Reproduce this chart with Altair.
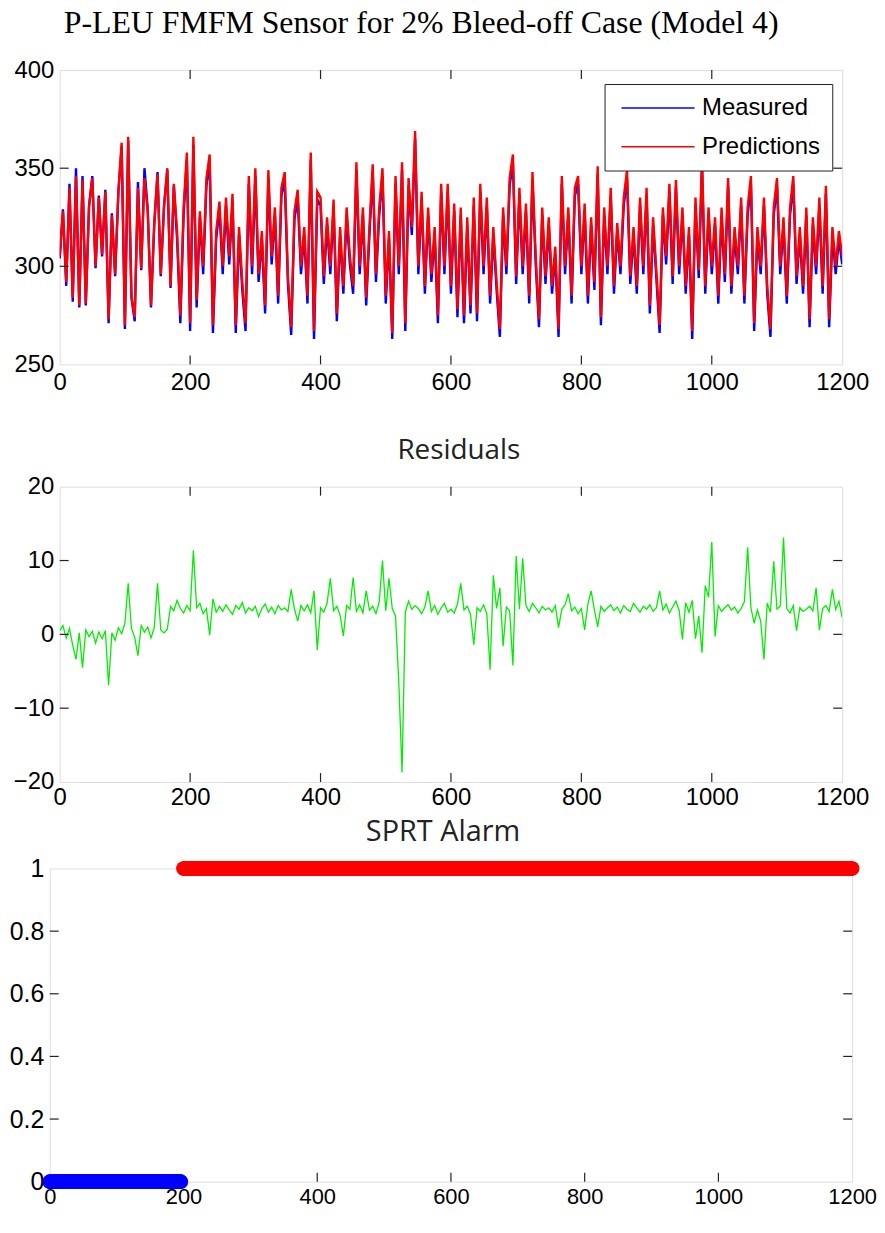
import altair as alt
import pandas as pd

# ---------------- data ----------------
sample_x = list(range(0, 1201, 5))

predictions = [
    305, 328, 292, 340, 284, 346, 280, 344, 281, 330,
    345, 300, 335, 306, 338, 273, 326, 296, 338, 363,
    270, 366, 285, 274, 340, 299, 345, 328, 280, 322,
    347, 296, 330, 350, 290, 342, 318, 275, 330, 358,
    271, 366, 283, 328, 300, 345, 357, 270, 318, 333,
    300, 335, 305, 337, 270, 320, 292, 271, 346, 300,
    350, 296, 318, 280, 349, 305, 330, 285, 340, 348,
    295, 269, 328, 339, 300, 320, 285, 358, 267, 338,
    335, 295, 325, 300, 334, 276, 320, 290, 330, 305,
    290, 353, 300, 330, 284, 320, 352, 296, 330, 350,
    285, 318, 266, 346, 300, 353, 271, 345, 320, 369,
    300, 338, 290, 330, 296, 320, 275, 342, 300, 342,
    290, 332, 278, 330, 275, 325, 280, 335, 276, 342,
    300, 335, 285, 320, 292, 268, 330, 300, 345, 357,
    295, 340, 300, 332, 285, 348, 305, 273, 330, 295,
    325, 290, 310, 268, 346, 300, 330, 285, 340, 346,
    300, 332, 285, 325, 292, 351, 274, 330, 300, 340,
    290, 322, 300, 335, 349, 295, 320, 290, 335, 300,
    340, 280, 325, 298, 270, 330, 305, 342, 295, 344,
    300, 330, 290, 320, 267, 335, 298, 355, 290, 330,
    300, 325, 285, 330, 296, 345, 290, 320, 300, 335,
    285, 330, 346, 271, 320, 300, 335, 290, 268, 330,
    345, 300, 325, 285, 330, 346, 295, 320, 290, 330,
    273, 325, 300, 335, 290, 341, 273, 320, 300, 318,
    305,
]

measured = [
    304, 329, 290, 342, 282, 350, 279, 346, 280, 331,
    346, 299, 336, 305, 339, 271, 327, 295, 338, 361,
    268, 364, 284, 272, 343, 298, 350, 329, 279, 321,
    348, 295, 331, 349, 289, 341, 314, 271, 326, 354,
    267, 362, 279, 325, 296, 341, 353, 266, 314, 329,
    296, 331, 301, 333, 266, 316, 288, 267, 342, 296,
    346, 292, 314, 276, 345, 301, 326, 281, 336, 344,
    291, 265, 324, 335, 296, 316, 281, 354, 263, 334,
    331, 291, 321, 296, 330, 272, 316, 286, 326, 301,
    286, 349, 296, 326, 280, 316, 348, 292, 326, 346,
    281, 314, 263, 342, 296, 349, 267, 341, 316, 365,
    296, 334, 286, 326, 292, 316, 271, 338, 296, 338,
    286, 328, 274, 326, 271, 321, 276, 331, 272, 338,
    296, 331, 281, 316, 288, 264, 326, 296, 341, 353,
    291, 336, 296, 328, 281, 344, 301, 269, 326, 291,
    321, 286, 306, 264, 342, 296, 326, 281, 336, 342,
    296, 328, 281, 321, 288, 347, 270, 326, 296, 336,
    286, 318, 296, 331, 345, 291, 316, 286, 331, 296,
    336, 276, 321, 294, 266, 326, 301, 338, 291, 340,
    296, 326, 286, 316, 263, 331, 294, 351, 286, 326,
    296, 321, 281, 326, 292, 341, 286, 316, 296, 331,
    281, 326, 342, 267, 316, 296, 331, 286, 264, 326,
    341, 296, 321, 281, 326, 342, 291, 316, 286, 326,
    269, 321, 296, 331, 286, 337, 269, 316, 296, 314,
    301,
]

residuals = [
    0.5, 1.2, -0.5, 0.8, -1.5, -3.4, 0.2, -4.5, 0.6, -0.3,
    0.4, -1.2, 0.3, -0.6, 0.5, -6.9, 0.2, -0.8, 0.9, 0.1,
    1.5, 6.9, 0.8, -0.4, -2.9, 1.2, 0.3, 1.0, -0.5, 0.9,
    6.9, 0.6, 0.2, 0.7, 3.8, 3.2, 4.6, 3.5, 2.9, 3.9,
    3.2, 11.4, 3.6, 4.2, 2.8, 3.5, -0.1, 4.8, 3.0, 3.8,
    3.1, 4.0, 3.3, 2.7, 3.9, 3.4, 4.3, 2.9, 3.6, 3.2,
    3.8, 2.4, 3.5, 4.1, 3.0, 3.7, 2.8, 3.9, 3.3, 3.6,
    3.1, 6.1, 3.4, 1.8, 3.9, 3.2, 4.0, 2.9, 5.9, -2.1,
    3.6, 3.0, 4.2, 7.6, 3.2, 3.8, 2.6, -0.2, 3.9, 3.4,
    7.7, 3.1, 4.0, 2.9, 5.9, 3.3, 3.8, 2.8, 4.4, 10.0,
    3.2, 7.6, 3.5, 2.5, -6.5, -18.7, 3.0, 4.5, 3.4, 3.9,
    3.5, 2.8, 3.7, 5.9, 3.1, 3.9, 2.7, 3.6, 4.2, 3.0,
    3.4, 2.9, 4.1, 6.9, 3.3, 3.8, 2.7, -1.4, 3.6, 3.1,
    4.0, 2.8, -4.8, 8.0, 3.5, 6.3, -1.6, 3.7, 3.2, -4.2,
    10.6, 3.4, 10.3, 3.9, 3.1, 4.2, 3.6, 2.9, 3.8, 3.3,
    3.6, 3.0, 3.9, 0.9, 3.4, 4.0, 5.5, 3.2, 3.7, 2.8,
    3.5, 0.6, 4.1, 5.9, 3.3, 1.0, 3.8, 3.1, 3.6, 4.0,
    3.2, 3.7, 2.9, 3.9, 3.4, 3.1, 4.2, 3.6, 3.0, 3.8,
    3.4, 4.0, 3.1, 3.6, 5.9, 3.3, 4.1, 2.9, 3.7, 4.5,
    3.2, -0.7, 4.3, 3.0, 4.6, -0.6, 2.5, -2.5, 6.6, 5.0,
    12.5, -0.3, 3.9, 3.1, 3.6, 4.0, 3.3, 3.7, 2.9, 3.5,
    4.4, 11.8, 3.6, 1.5, 3.3, 1.8, -3.4, 4.2, 3.0, 9.9,
    3.4, 3.8, 13.1, 3.5, 2.9, 3.9, 0.5, 3.6, 3.1, 3.4,
    3.8, 3.2, 6.3, 0.6, 3.5, 3.9, 3.1, 6.1, 3.4, 4.5,
    2.3,
]

# SPRT alarm: runs of constant alarm state (first sample, last sample, state)
alarm_run_start = [0, 200]
alarm_run_end = [196, 1200]
alarm_run_state = [0, 1]

series_names = ["Measured", "Predictions"]
series_colors = ["#0000ff", "#ff0000"]

x_ticks = [0, 200, 400, 600, 800, 1000, 1200]
x_inner_ticks = [200, 400, 600, 800, 1000]
top_y_ticks = [250, 300, 350, 400]
top_y_inner = [300, 350]
mid_y_ticks = [-20, -10, 0, 10, 20]
mid_y_inner = [-10, 0, 10]
bot_y_ticks = [0, 0.2, 0.4, 0.6, 0.8, 1]
bot_y_inner = [0.2, 0.4, 0.6, 0.8]

# ---------------- styling helpers ----------------
LABEL_FONT = "Liberation Sans"
TICK_LEN = 9
FRAME = "#222222"


def x_axis(pad=6, size=24):
    return alt.Axis(values=x_ticks, title=None, ticks=False, domain=False, grid=False,
                    format="d", labelFont=LABEL_FONT, labelFontSize=size, labelColor="black",
                    labelPadding=pad, labelFlush=False, labelOverlap=False)


def y_axis(vals, pad=6, size=24, fmt="d"):
    return alt.Axis(values=vals, title=None, ticks=False, domain=False, grid=False,
                    labelFont=LABEL_FONT, labelFontSize=size, labelColor="black",
                    labelPadding=pad, labelFlush=False, labelOverlap=False, format=fmt)


def panel(main_layers, xvals, yvals, ydom, W, H, xax, yax, top=True):
    xsc = alt.Scale(domain=[0, 1200], nice=False, zero=False)
    ysc = alt.Scale(domain=ydom, nice=False, zero=False)
    dx = pd.DataFrame({"sample": xvals})
    dy = pd.DataFrame({"level": yvals})
    xe = alt.X("sample:Q", scale=xsc, axis=xax)
    ye = alt.Y("level:Q", scale=ysc, axis=yax)
    rule = dict(color=FRAME, strokeWidth=1.2)
    layers = list(main_layers)
    layers.append(alt.Chart(dx).mark_rule(**rule).encode(x=xe, y=alt.value(H), y2=alt.value(H - TICK_LEN)))
    if top:
        layers.append(alt.Chart(dx).mark_rule(**rule).encode(x=xe, y=alt.value(0), y2=alt.value(TICK_LEN)))
    layers.append(alt.Chart(dy).mark_rule(**rule).encode(y=ye, x=alt.value(0), x2=alt.value(TICK_LEN)))
    layers.append(alt.Chart(dy).mark_rule(**rule).encode(y=ye, x=alt.value(W), x2=alt.value(W - TICK_LEN)))
    return layers


def spacer(w, h):
    return alt.Chart(pd.DataFrame({"s": [0]})).mark_rule(opacity=0).encode(
        y=alt.value(0)
    ).properties(width=w, height=h, view=alt.ViewBackground(stroke="transparent"))


# ---------------- top panel ----------------
W1, H1 = 787, 296
n = len(sample_x)
top_df = pd.DataFrame({
    "sample": sample_x + sample_x,
    "level": measured + predictions,
    "series": [series_names[0]] * n + [series_names[1]] * n,
})
xa1, ya1 = x_axis(), y_axis(top_y_ticks)
top_lines = alt.Chart(top_df).mark_line(strokeWidth=2.4, clip=True).encode(
    x=alt.X("sample:Q", scale=alt.Scale(domain=[0, 1200], nice=False, zero=False), axis=xa1),
    y=alt.Y("level:Q", scale=alt.Scale(domain=[250, 400], nice=False, zero=False), axis=ya1),
    color=alt.Color("series:N",
                    scale=alt.Scale(domain=series_names, range=series_colors),
                    legend=alt.Legend(orient="none", legendX=548, legendY=14, title=None,
                                      fillColor="white", strokeColor=FRAME, padding=12,
                                      symbolType="M-1,0H9.5", symbolSize=196,
                                      symbolStrokeWidth=1.5, labelOffset=62,
                                      labelFont=LABEL_FONT, labelFontSize=24,
                                      labelColor="black", rowPadding=15)),
    detail="series:N",
)
# invisible helper that widens the panel's bounds so the centred stack lines up
top_pad = alt.Chart(pd.DataFrame({"s": [0]})).mark_rule(opacity=0).encode(
    x=alt.value(W1), x2=alt.value(W1 + 34), y=alt.value(H1))
top = alt.layer(*panel([top_lines], x_inner_ticks, top_y_inner, [250, 400], W1, H1, xa1, ya1),
                top_pad).properties(
    width=W1, height=H1,
    title=alt.TitleParams("P-LEU FMFM Sensor for 2% Bleed-off Case (Model 4)",
                          font="Liberation Serif", fontSize=32, fontWeight="normal",
                          color="black", anchor="middle", dx=-30, offset=18),
)

# ---------------- middle panel ----------------
W2, H2 = 787, 297
mid_df = pd.DataFrame({"sample": sample_x, "level": residuals})
xa2, ya2 = x_axis(pad=4), y_axis(mid_y_ticks)
mid_line = alt.Chart(mid_df).mark_line(strokeWidth=1.3, color="#00ee00", clip=True).encode(
    x=alt.X("sample:Q", scale=alt.Scale(domain=[0, 1200], nice=False, zero=False), axis=xa2),
    y=alt.Y("level:Q", scale=alt.Scale(domain=[-20, 20], nice=False, zero=False), axis=ya2),
)
mid = alt.layer(*panel([mid_line], x_inner_ticks, mid_y_inner, [-20, 20], W2, H2, xa2, ya2)).properties(
    width=W2, height=H2,
    title=alt.TitleParams("Residuals", font="Open Sans", fontSize=28, fontWeight="normal",
                          color="#222222", anchor="middle", dx=8, offset=10),
)

# ---------------- bottom panel ----------------
W3, H3 = 807, 315
a_x, a_state = [], []
for s, e, st in zip(alarm_run_start, alarm_run_end, alarm_run_state):
    for i in range(s, e + 1):
        a_x.append(i)
        a_state.append(st)
alarm_df = pd.DataFrame({"sample": a_x, "level": a_state})
xa3, ya3 = x_axis(pad=5, size=22), y_axis(bot_y_ticks, pad=6, size=25, fmt=".1~f")
bot_pts = alt.Chart(alarm_df).mark_point(filled=True, size=220, opacity=1).encode(
    x=alt.X("sample:Q", scale=alt.Scale(domain=[0, 1200], nice=False, zero=False), axis=xa3),
    y=alt.Y("level:Q", scale=alt.Scale(domain=[0, 1], nice=False, zero=False), axis=ya3),
    color=alt.Color("level:N", scale=alt.Scale(domain=[0, 1], range=["#0000ff", "#ff0000"]),
                    legend=None),
)
bot = alt.layer(*panel([], [400, 600, 800, 1000], bot_y_inner, [0, 1], W3, H3, xa3, ya3, top=False),
                bot_pts).properties(
    width=W3, height=H3,
    title=alt.TitleParams("SPRT Alarm", font="Open Sans", fontSize=29, fontWeight="normal",
                          color="#222222", anchor="middle", dx=-8, offset=10),
)

GAP = 20
chart = alt.vconcat(top, spacer(W1, 123 - 2 * GAP), mid, spacer(W2, 87 - 2 * GAP), bot,
                    spacing=GAP, bounds="flush", center=True).resolve_scale(
    color="independent"
).properties(padding={"left": 0, "top": -5, "right": 0, "bottom": -3}).configure_view(
    stroke=FRAME, strokeWidth=1.5
).configure(background="white")

chart.save("out.html", embed_options={"renderer": "svg", "actions": False})
